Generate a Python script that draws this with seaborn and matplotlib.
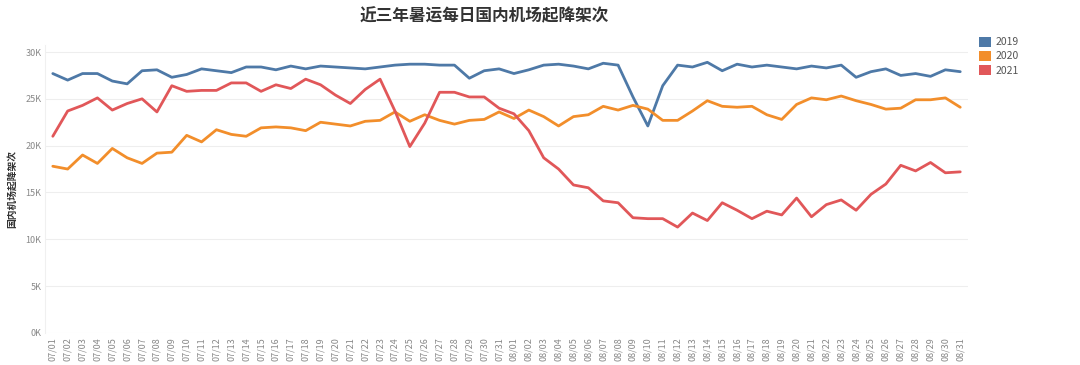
import pandas as pd
import matplotlib.pyplot as plt
import seaborn as sns
from matplotlib.ticker import FuncFormatter
from matplotlib.patches import Patch

# 日期标签 07/01 - 08/31
dates = [f"07/{d:02d}" for d in range(1, 32)] + [f"08/{d:02d}" for d in range(1, 32)]

# 各年每日起降架次（千架次）
v2019 = [27.7, 27.0, 27.7, 27.7, 26.9, 26.6, 28.0, 28.1, 27.3, 27.6,
         28.2, 28.0, 27.8, 28.4, 28.4, 28.1, 28.5, 28.2, 28.5, 28.4,
         28.3, 28.2, 28.4, 28.6, 28.7, 28.7, 28.6, 28.6, 27.2, 28.0,
         28.2, 27.7, 28.1, 28.6, 28.7, 28.5, 28.2, 28.8, 28.6, 25.2,
         22.1, 26.4, 28.6, 28.4, 28.9, 28.0, 28.7, 28.4, 28.6, 28.4,
         28.2, 28.5, 28.3, 28.6, 27.3, 27.9, 28.2, 27.5, 27.7, 27.4,
         28.1, 27.9]
v2020 = [17.8, 17.5, 19.0, 18.1, 19.7, 18.7, 18.1, 19.2, 19.3, 21.1,
         20.4, 21.7, 21.2, 21.0, 21.9, 22.0, 21.9, 21.6, 22.5, 22.3,
         22.1, 22.6, 22.7, 23.6, 22.6, 23.3, 22.7, 22.3, 22.7, 22.8,
         23.6, 22.9, 23.8, 23.1, 22.1, 23.1, 23.3, 24.2, 23.8, 24.3,
         23.9, 22.7, 22.7, 23.7, 24.8, 24.2, 24.1, 24.2, 23.3, 22.8,
         24.4, 25.1, 24.9, 25.3, 24.8, 24.4, 23.9, 24.0, 24.9, 24.9,
         25.1, 24.1]
v2021 = [21.0, 23.7, 24.3, 25.1, 23.8, 24.5, 25.0, 23.6, 26.4, 25.8,
         25.9, 25.9, 26.7, 26.7, 25.8, 26.5, 26.1, 27.1, 26.5, 25.4,
         24.5, 26.0, 27.1, 23.7, 19.9, 22.4, 25.7, 25.7, 25.2, 25.2,
         24.0, 23.4, 21.6, 18.7, 17.5, 15.8, 15.5, 14.1, 13.9, 12.3,
         12.2, 12.2, 11.3, 12.8, 12.0, 13.9, 13.1, 12.2, 13.0, 12.6,
         14.4, 12.4, 13.7, 14.2, 13.1, 14.8, 15.9, 17.9, 17.3, 18.2,
         17.1, 17.2]

years = ["2019", "2020", "2021"]
colors = ["#4e79a7", "#f28e2b", "#e15759"]

rows = []
for y, vals in zip(years, [v2019, v2020, v2021]):
    for i, v in enumerate(vals):
        rows.append({"idx": i, "year": y, "flights": v * 1000})
df = pd.DataFrame(rows)

sns.set_style("white")
plt.rcParams["font.family"] = ["Noto Sans CJK SC", "DejaVu Sans"]

fig = plt.figure(figsize=(10.8, 3.65), dpi=100)
ax = fig.add_axes([0.042, 0.088, 0.854, 0.79])

sns.lineplot(data=df, x="idx", y="flights", hue="year",
             palette=dict(zip(years, colors)), linewidth=2, ax=ax, legend=False)

ax.set_xlim(-0.5, len(dates) - 0.5)
ax.set_ylim(0, 30800)
ax.set_yticks(range(0, 30001, 5000))
ax.yaxis.set_major_formatter(FuncFormatter(lambda v, p: f"{int(v / 1000)}K"))
ax.set_xticks(range(len(dates)))
ax.set_xticklabels(dates, rotation=90)
ax.tick_params(axis="both", labelsize=6.5, colors="#888888", length=0, pad=3)
ax.grid(axis="y", color="#eeeeee", linewidth=0.8)
for s in ["top", "right", "bottom"]:
    ax.spines[s].set_visible(False)
ax.spines["left"].set_color("#f0f0f0")

ax.set_xlabel("")
ax.set_ylabel("国内机场起降架次", fontsize=7, fontweight="bold", color="#333333", labelpad=6)

fig.text(0.448, 0.955, "近三年暑运每日国内机场起降架次", ha="center", va="center",
         fontsize=12, fontweight="bold", color="#333333")

handles = [Patch(facecolor=c, edgecolor="none") for c in colors]
fig.legend(handles, years, loc="upper left", bbox_to_anchor=(0.898, 0.925),
           frameon=False, fontsize=7.5, handlelength=1.1, handleheight=1.1,
           handletextpad=0.5, labelspacing=0.35, labelcolor="#555555")

fig.savefig("out.png", dpi=100, facecolor="white")
